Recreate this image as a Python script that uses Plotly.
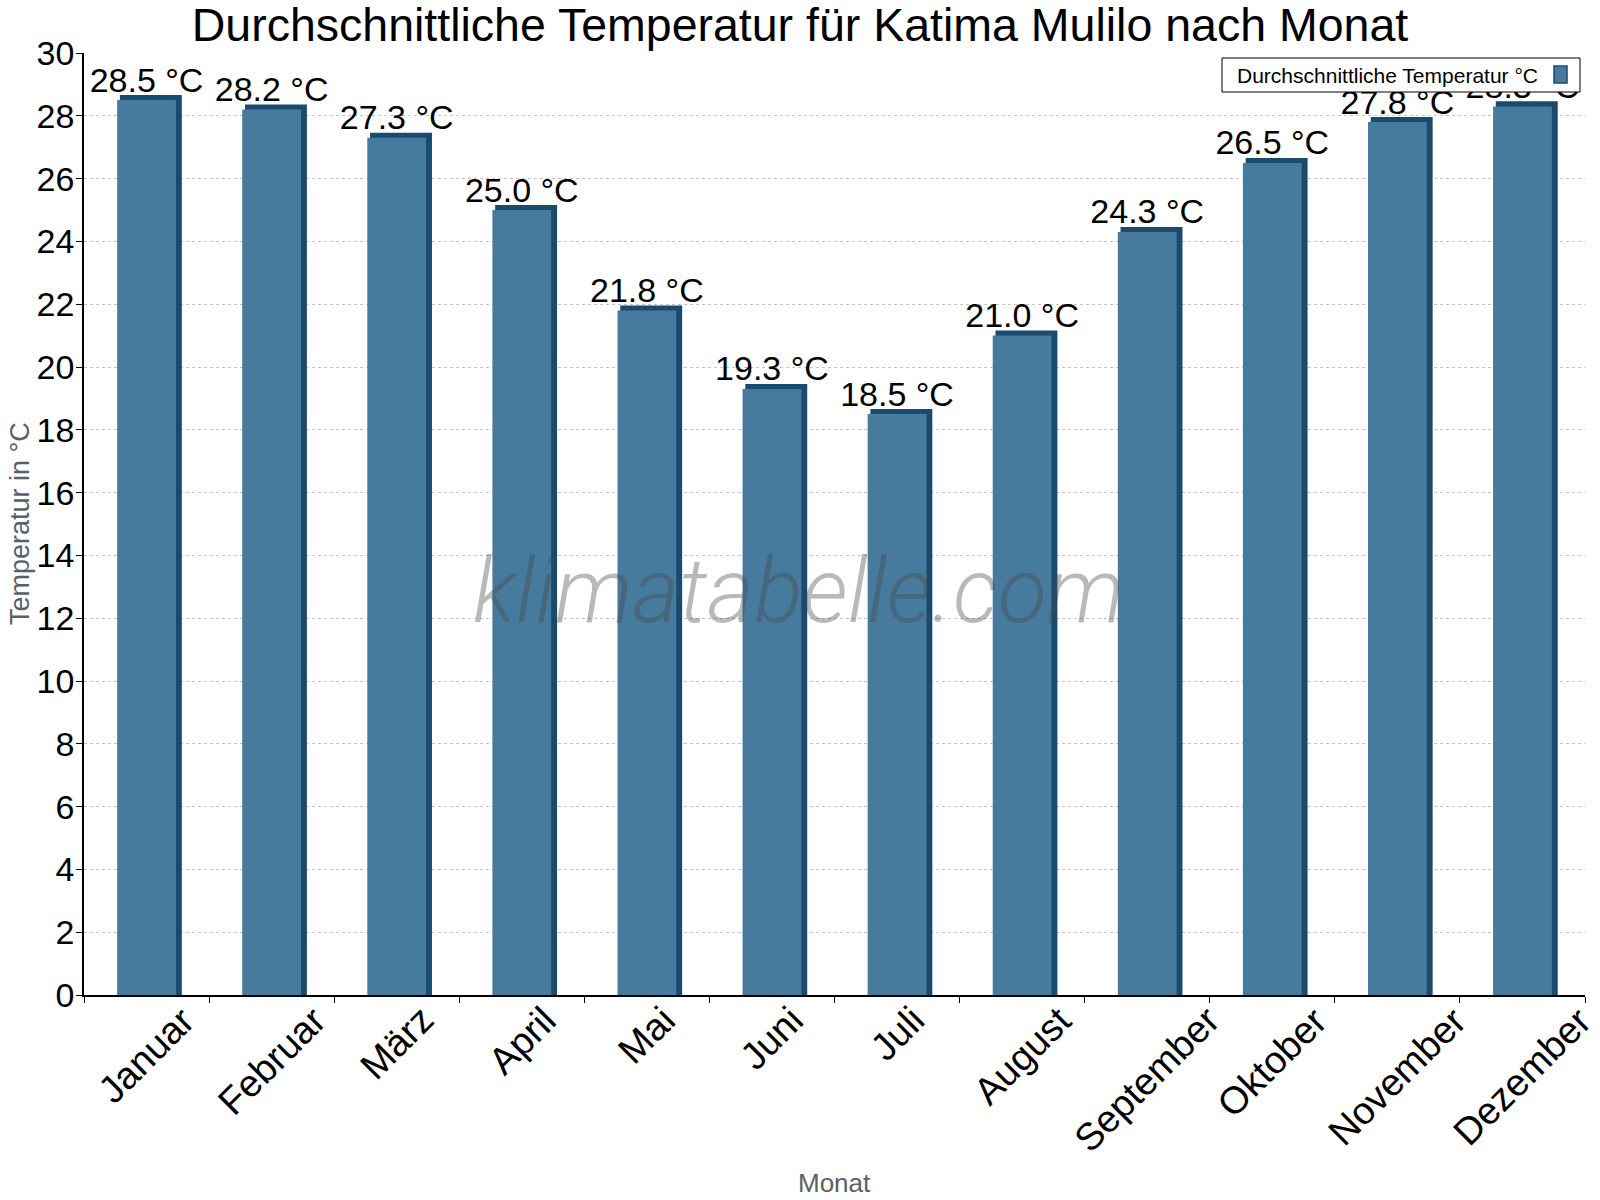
import plotly.graph_objects as go

months = ["Januar", "Februar", "März", "April", "Mai", "Juni", "Juli",
          "August", "September", "Oktober", "November", "Dezember"]
temps = [28.5, 28.2, 27.3, 25.0, 21.8, 19.3, 18.5, 21.0, 24.3, 26.5, 27.8, 28.3]
labels = [f"{t:.1f} °C" for t in temps]
y_ticks = list(range(0, 31, 2))

FRONT = "#477B9E"
SIDE = "#1A4B6E"
DEPTH = 0.16  # visual depth of the 3D top, in axis units
FONT = "Liberation Sans, Arial, sans-serif"

fig = go.Figure()
# dark "3D" side / top
fig.add_trace(go.Bar(x=months, y=[t + DEPTH for t in temps], width=0.495, offset=-0.213,
                     marker=dict(color=SIDE, line=dict(width=0)), hoverinfo="skip",
                     showlegend=False))
# front face
fig.add_trace(go.Bar(x=months, y=temps, width=0.47, offset=-0.235,
                     marker=dict(color=FRONT, line=dict(width=0)),
                     name="Durchschnittliche Temperatur °C", showlegend=False))
# value labels
fig.add_trace(go.Scatter(x=months, y=temps, mode="text", text=labels,
                         textposition="top center", cliponaxis=False,
                         textfont=dict(family=FONT, size=34, color="black"),
                         showlegend=False, hoverinfo="skip"))

L, R, T, B = 84, 1585, 53, 995
W, H = R - L, B - T
px = lambda x: (x - L) / W
py = lambda y: (B - y) / H

fig.update_layout(
    width=1600, height=1200,
    margin=dict(l=L, r=1600 - R, t=T, b=1200 - B, autoexpand=False),
    paper_bgcolor="white", plot_bgcolor="white",
    barmode="overlay",
    showlegend=False,
    title=dict(text="Durchschnittliche Temperatur für Katima Mulilo nach Monat",
               x=0.5, xanchor="center", xref="container",
               y=1 - 25 / 1200, yanchor="middle", yref="container",
               font=dict(family=FONT, size=46.5, color="black")),
    xaxis=dict(type="category", range=[-0.5, len(months) - 0.5],
               tickson="boundaries", ticks="outside", ticklen=6,
               tickcolor="black", showline=True, linecolor="black", linewidth=1.5,
               showgrid=False, showticklabels=False, automargin=False),
    yaxis=dict(range=[0, 30], tickvals=y_ticks, ticks="outside", ticklen=6,
               tickcolor="black", showline=True, linecolor="black", linewidth=1.5,
               showgrid=True, gridcolor="#c4c4c4", griddash="dot", gridwidth=1,
               zeroline=False, tickfont=dict(family=FONT, size=34, color="black"),
               ticklabelstandoff=-5, automargin=False),
    font=dict(family=FONT),
)

# legend box (symbol on the right, as in the reference)
fig.add_shape(type="rect", xref="paper", yref="paper",
              x0=px(1222), x1=px(1580), y0=py(92), y1=py(58),
              fillcolor="white", line=dict(color="black", width=1), layer="above")
fig.add_shape(type="rect", xref="paper", yref="paper",
              x0=px(1554), x1=px(1567), y0=py(83), y1=py(66),
              fillcolor=FRONT, line=dict(color=SIDE, width=1.5), layer="above")

annotations = [
    dict(text="Durchschnittliche Temperatur °C", xref="paper", yref="paper",
         x=px(1235), y=py(75), xanchor="left", yanchor="middle", showarrow=False,
         font=dict(family=FONT, size=21, color="black")),
    dict(text="klimatabelle.com", xref="paper", yref="paper", x=px(798), y=py(591),
         xanchor="center", yanchor="middle", showarrow=False,
         font=dict(family="Roboto", size=90, color="rgba(70,70,70,0.38)",
                   style="italic", weight=300)),
    dict(text="Temperatur in °C", xref="paper", yref="paper", x=px(20), y=0.5,
         xanchor="center", yanchor="middle", textangle=-90, showarrow=False,
         font=dict(family=FONT, size=27, color="#5a606a")),
    dict(text="Monat", xref="paper", yref="paper", x=0.5, y=py(1183),
         xanchor="center", yanchor="middle", showarrow=False,
         font=dict(family=FONT, size=26, color="#5a606a")),
]
# month tick labels: rotated, centred under each category
for m in months:
    annotations.append(dict(text=m, x=m, xref="x", y=py(996), yref="paper",
                            xanchor="center", yanchor="top", textangle=-45,
                            showarrow=False,
                            font=dict(family=FONT, size=38, color="black")))
fig.update_layout(annotations=annotations)

fig.write_html("out.html")
